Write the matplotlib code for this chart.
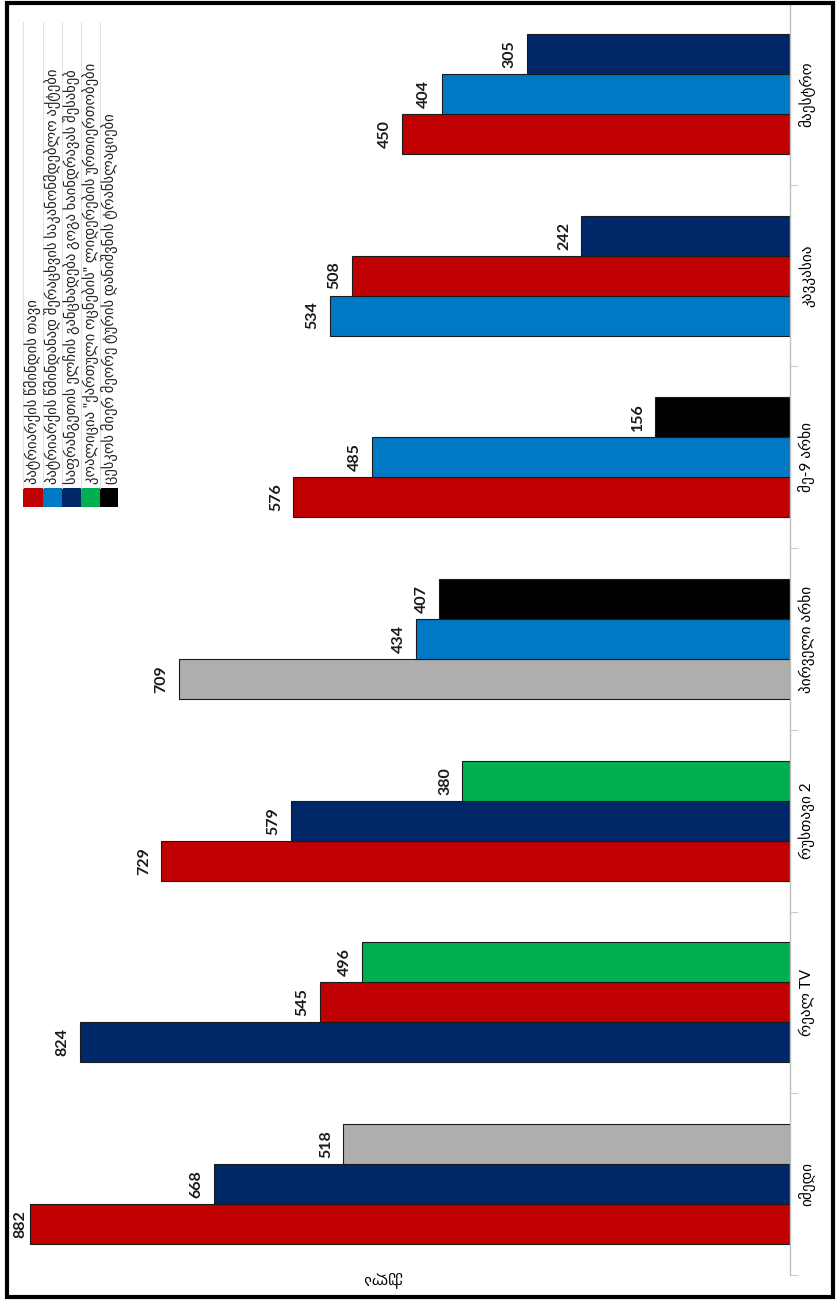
import matplotlib
matplotlib.use("Agg")
import matplotlib.pyplot as plt
from matplotlib.patches import Rectangle
from matplotlib.lines import Line2D

plt.rcParams['font.family'] = ['Lato', 'DejaVu Sans']

# channels, bottom to top in the picture
channels = ["იმედი", "რეალ TV", "რუსთავი 2", "პირველი არხი", "მე-9 არხი", "კავკასია", "მაესტრო"]

# per channel: topic index of each bar (bottom bar first) and its value
bar_topics = [
    [0, 2, 5],
    [2, 0, 3],
    [0, 2, 3],
    [5, 1, 4],
    [0, 1, 4],
    [1, 0, 2],
    [0, 1, 2],
]
bar_values = [
    [882, 668, 518],
    [824, 545, 496],
    [729, 579, 380],
    [709, 434, 407],
    [576, 485, 156],
    [534, 508, 242],
    [450, 404, 305],
]

topics = [
    "პატრიარქის წმინდის თავი",
    "პატრიარქის წმინდანად შერაცხვის საკანონმდებლო აქტები",
    "საფრანგეთის ელჩის განცხადება გოგა ხაინდრავას შესახებ",
    "კოალიცია \"ქართული ოცნების\" ლიდერების ურთიერთობები",
    "ცესკოს მიერ მეორე ტურის დანიშვნის ტრანსლაციები",
]
axis_title = "ქულა"

colors = ["#C00000", "#0079C4", "#002868", "#00B050", "#000000", "#AEAEAE"]

W, H = 838, 1300
fig = plt.figure(figsize=(W / 100, H / 100), dpi=100)

# plot area in pixel terms
left_px, right_px, top_px, bottom_px = 14, 790, 3, 1275
ax = fig.add_axes([left_px / W, 1 - bottom_px / H, (right_px - left_px) / W, (bottom_px - top_px) / H])

xmax = 900
bh = 0.22
for i, (tps, vals) in enumerate(zip(bar_topics, bar_values)):
    for j, (t, v) in enumerate(zip(tps, vals)):
        y = i + (j - 1) * bh
        ax.barh(y, v, height=bh, color=colors[t], edgecolor="#1a1a1a", linewidth=0.8)
        # keep the label inside the plot area like excel does
        lx = min(v + 12, xmax - 16)
        ax.text(lx, y, str(v), rotation=90, ha="right", va="center",
                fontsize=11.5, fontweight="bold", color="#1a1a1a")

ax.set_xlim(xmax, 0)
ax.set_ylim(-0.5, len(channels) - 0.5)
for s in ["left", "top", "bottom"]:
    ax.spines[s].set_visible(False)
ax.spines["right"].set_color("#BFBFBF")
ax.spines["right"].set_linewidth(1)
ax.set_xticks([])
ax.yaxis.tick_right()
ax.set_yticks(range(len(channels)))
ax.set_yticklabels(channels, rotation=90, va="center", ha="left", fontsize=11)
ax.tick_params(axis="y", which="major", length=0, pad=6)
ax.set_yticks([k + 0.5 for k in range(-1, len(channels))], minor=True)
ax.tick_params(axis="y", which="minor", length=6, color="#BFBFBF", direction="out")

# axis title, upside down
fig.text(382 / W, 1 - 1279 / H, axis_title, rotation=180, ha="center", va="center", fontsize=11)

# legend drawn by hand, rotated
col_x = [23, 43, 62, 81, 100, 118]
sw_top, sw_bot = 488, 507
for k, name in enumerate(topics):
    x0, x1 = col_x[k], col_x[k + 1]
    fig.patches.append(Rectangle((x0 / W, 1 - sw_bot / H), (x1 - x0) / W, (sw_bot - sw_top) / H,
                                 transform=fig.transFigure, facecolor=colors[k], edgecolor="none"))
    fig.text((x0 + x1) / 2 / W, 1 - 484 / H, name, rotation=90, ha="center", va="bottom",
             fontsize=10.5, color="#222222")
for x in col_x[:-1]:
    fig.lines.append(Line2D([x / W, x / W], [1 - 22 / H, 1 - sw_top / H], transform=fig.transFigure,
                            color="#DCE3EC", linewidth=0.8))

# outer frame
fig.patches.append(Rectangle((7 / W, 1 - 1297 / H), 826 / W, 1294 / H, transform=fig.transFigure,
                             facecolor="none", edgecolor="black", linewidth=3))

fig.savefig("out.png", dpi=100)
